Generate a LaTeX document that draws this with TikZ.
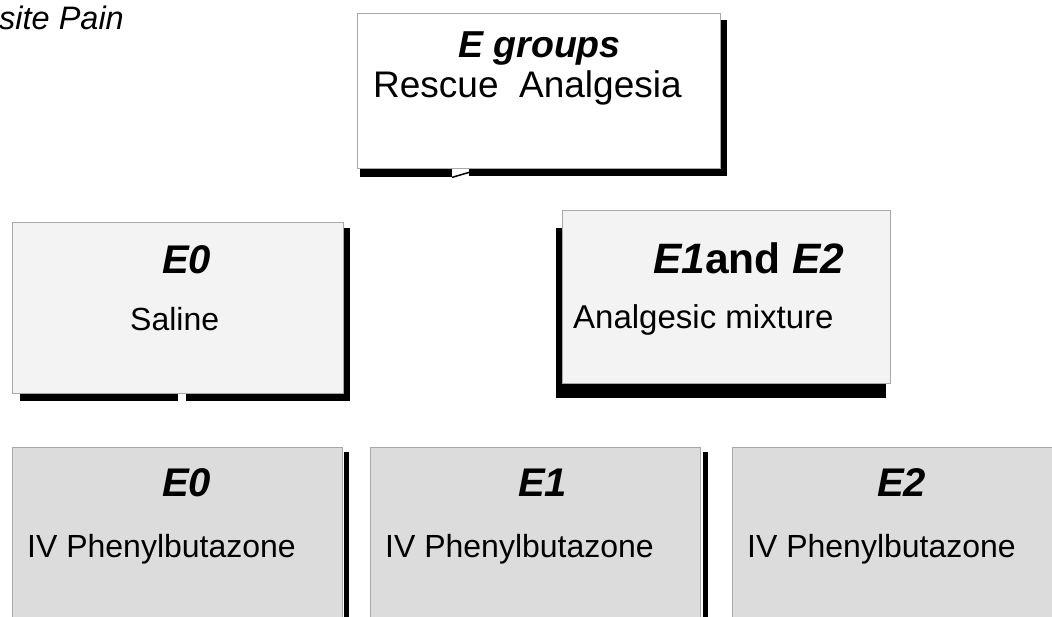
\documentclass[tikz,border=0pt]{standalone}
\usepackage{fontspec}
\setmainfont{Liberation Sans}
\definecolor{edge}{HTML}{A8A8A8}
\definecolor{midfill}{HTML}{F3F3F3}
\definecolor{lowfill}{HTML}{DCDCDC}
\begin{document}
\begin{tikzpicture}[x=1pt,y=-1pt,
  box/.style={draw=edge,line width=1.4pt,inner sep=0pt,anchor=north west},
  shadowbar/.style={fill=black},
  txt/.style={inner sep=0pt,anchor=base west,text=black},
  head/.style={txt,font=\fontsize{40}{44}\selectfont\bfseries\itshape},
  body/.style={txt,font=\fontsize{32}{36}\selectfont}]
\useasboundingbox (0,0) rectangle (1052,616);
\clip (0,0) rectangle (1052,616);
\fill[white] (0,0) rectangle (1052,616);

% caption fragment
\node[txt,font=\fontsize{32.5}{36}\selectfont\itshape] (cap) at (-1,29) {site Pain};

% top box
\node[box,fill=white,minimum width=363pt,minimum height=155pt] (top) at (357,13) {};
\fill[shadowbar] ([yshift=-7pt]top.north east) rectangle ([xshift=6pt,yshift=-7pt]top.south east);
\fill[shadowbar] ([xshift=3pt]top.south west) rectangle ([xshift=95pt,yshift=-8pt]top.south west);
\fill[shadowbar] ([xshift=112pt]top.south west) rectangle ([xshift=6pt,yshift=-7pt]top.south east);
\draw[black,line width=1.5pt] ([xshift=95pt,yshift=-8pt]top.south west) -- ([xshift=112pt,yshift=-3pt]top.south west);
\node[head,font=\fontsize{37.5}{40}\selectfont\bfseries\itshape] (tg) at (458,57) {E groups};
\node[body,font=\fontsize{37}{40}\selectfont] (tr) at (373,97) {Rescue\ \ Analgesia};

% middle left box
\node[box,fill=midfill,minimum width=331pt,minimum height=171pt] (mid0) at (12,222) {};
\fill[shadowbar] ([yshift=-6pt]mid0.north east) rectangle ([xshift=6pt,yshift=-7pt]mid0.south east);
\fill[shadowbar] ([xshift=8pt]mid0.south west) rectangle ([xshift=166pt,yshift=-7pt]mid0.south west);
\fill[shadowbar] ([xshift=174pt]mid0.south west) rectangle ([xshift=6pt,yshift=-7pt]mid0.south east);
\node[head] (m0h) at (162,273) {E0};
\node[body] (m0b) at (130,330) {Saline};

% middle right box
\node[box,fill=midfill,minimum width=328pt,minimum height=173pt] (mid12) at (562,210) {};
\fill[shadowbar] ([xshift=-6pt,yshift=-18pt]mid12.north west) rectangle ([yshift=-14pt]mid12.south west);
\fill[shadowbar] ([xshift=-6pt]mid12.south west) rectangle ([xshift=-5pt,yshift=-14pt]mid12.south east);
\node[head,font=\fontsize{42.5}{46}\selectfont\bfseries] (m12h) at (653,273) {\textit{E1}and \textit{E2}};
\node[body,font=\fontsize{33}{36}\selectfont] (m12b) at (573,328) {Analgesic mixture};

% bottom boxes
\node[box,fill=lowfill,minimum width=330pt,minimum height=200pt] (b0) at (12,447) {};
\node[box,fill=lowfill,minimum width=330pt,minimum height=200pt] (b1) at (370,447) {};
\node[box,fill=lowfill,minimum width=340pt,minimum height=200pt] (b2) at (732,447) {};
\fill[shadowbar] ([xshift=1pt,yshift=-5pt]b0.north east) rectangle ([xshift=6pt]b0.south east);
\fill[shadowbar] ([xshift=2pt,yshift=-5pt]b1.north east) rectangle ([xshift=7pt]b1.south east);

\node[head] (b0h) at (162,496) {E0};
\node[body] (b0b) at (27,557) {IV Phenylbutazone};
\node[head] (b1h) at (518,496) {E1};
\node[body] (b1b) at (385,557) {IV Phenylbutazone};
\node[head] (b2h) at (877,496) {E2};
\node[body] (b2b) at (747,557) {IV Phenylbutazone};
\end{tikzpicture}
\end{document}
